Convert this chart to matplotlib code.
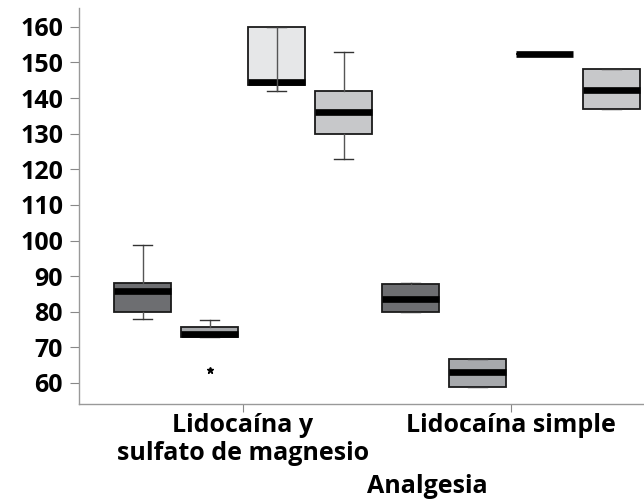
import numpy as np
import matplotlib.pyplot as plt

plt.rcParams['font.family'] = ['Open Sans', 'DejaVu Sans']

groups = ['Lidocaína y\nsulfato de magnesio', 'Lidocaína simple']
box_colors = ['#6d6e71', '#a7a9ac', '#e6e7e8', '#c7c8ca']
hue_offsets = [-0.375, -0.125, 0.125, 0.375]

# per group, per hue: whislo, q1, med, q3, whishi
whislo = [[78, 72.8, 142.1, 122.8], [79.8, 58.8, 152.4, 136.9]]
q1 = [[80, 72.8, 143.7, 130], [79.8, 58.8, 152.4, 136.9]]
med = [[85.8, 73.7, 144.6, 136.0], [83.7, 63.2, 152.4, 142.4]]
q3 = [[88, 75.6, 160, 142], [87.7, 66.7, 152.4, 148.1]]
whishi = [[98.8, 77.7, 160, 153], [88.0, 66.7, 152.4, 148.3]]
fliers = [[[], [63.6], [], []], [[], [], [], []]]

fig = plt.figure(figsize=(6.44, 4.99), dpi=100)
ax = fig.add_axes([79 / 644, 95 / 499, 1 - 79 / 644, (491 - 95) / 499])

stats, positions, colors = [], [], []
for g in range(len(groups)):
    for h in range(4):
        stats.append(dict(whislo=whislo[g][h], q1=q1[g][h], med=med[g][h],
                          q3=q3[g][h], whishi=whishi[g][h], fliers=fliers[g][h]))
        positions.append(g + hue_offsets[h])
        colors.append(box_colors[h])

bp = ax.bxp(stats, positions=positions, widths=0.21, patch_artist=True,
            capwidths=0.07,
            boxprops=dict(edgecolor='#1a1a1a', linewidth=1.3),
            whiskerprops=dict(color='#555555', linewidth=1.0),
            capprops=dict(color='#333333', linewidth=1.0),
            medianprops=dict(color='black', linewidth=4.8, solid_capstyle='butt'),
            flierprops=dict(marker='*', markersize=5, markerfacecolor='black',
                            markeredgecolor='black'))
for patch, c in zip(bp['boxes'], colors):
    patch.set_facecolor(c)

# whisker line visible through the light box (first group, third box)
ax.vlines(positions[2], whislo[0][2], whishi[0][2], color='#555555', linewidth=1.0, zorder=2.5)

ax.set_xlim(-0.612, 1.496)
ax.set_ylim(54.1, 165.3)
ax.set_yticks(np.arange(60, 161, 10))
ax.set_xticks(range(len(groups)))
ax.set_xticklabels(groups, fontsize=18, fontweight='bold', linespacing=1.15)
for lab in ax.get_yticklabels():
    lab.set_fontsize(18)
    lab.set_fontweight('bold')

ax.tick_params(axis='y', length=6.5, color='#888888', pad=5)
ax.tick_params(axis='x', length=5.5, color='#888888', pad=1)
for s in ['top', 'right']:
    ax.spines[s].set_visible(False)
for s in ['left', 'bottom']:
    ax.spines[s].set_color('#999999')
    ax.spines[s].set_linewidth(1.0)

ax.set_xlabel('Analgesia', fontsize=18, fontweight='bold')
ax.xaxis.set_label_coords((427 - 79) / (644 - 79), -0.178)
ax.xaxis.label.set_va('top')

fig.savefig('out.png', dpi=100)
